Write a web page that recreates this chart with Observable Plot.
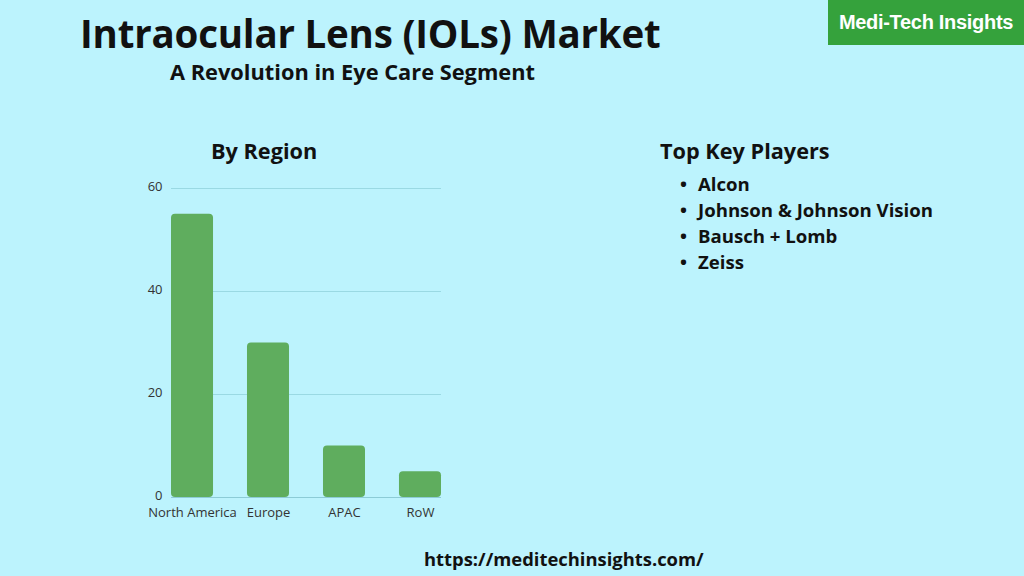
<!DOCTYPE html>
<html>
<head>
<meta charset="utf-8">
<script src="https://cdn.jsdelivr.net/npm/d3@7"></script>
<script src="https://cdn.jsdelivr.net/npm/@observablehq/plot@0.6"></script>
<style>
  html, body { margin: 0; padding: 0; }
  body { width: 1024px; height: 576px; background: #bcf3fd; position: relative; overflow: hidden; font-family: "Open Sans", sans-serif; color: #111; }
  .abs { position: absolute; white-space: nowrap; }
  #title { left: 80px; top: 11px; font-size: 38.5px; line-height: 1.15; font-weight: 700; letter-spacing: -0.2px; }
  #subtitle { left: 170px; top: 59px; font-size: 21.8px; line-height: 1.15; font-weight: 700; }
  #logo { left: 828px; top: 0; width: 196px; height: 45px; background: #35a23c; color: #fff; font-family: "Liberation Sans", Arial, sans-serif; font-weight: 700; font-size: 20px; display: flex; align-items: center; justify-content: center; letter-spacing: -0.3px; }
  #byregion { left: 211px; top: 136px; font-size: 21.7px; font-weight: 700; }
  #players { left: 660px; top: 136px; font-size: 21.7px; font-weight: 700; }
  #list { left: 680px; top: 171px; font-size: 18.6px; font-weight: 700; margin: 0; padding: 0; list-style: none; }
  #list li { height: 26px; line-height: 26px; }
  #list li::before { content: "•"; display: inline-block; width: 18px; }
  #url { left: 424px; top: 546px; font-size: 18.4px; font-weight: 700; }
  #chart { left: 100px; top: 170px; }
</style>
</head>
<body>
<div id="title" class="abs">Intraocular Lens (IOLs) Market</div>
<div id="subtitle" class="abs">A Revolution in Eye Care Segment</div>
<div id="logo" class="abs">Medi-Tech Insights</div>
<div id="byregion" class="abs">By Region</div>
<div id="players" class="abs">Top Key Players</div>
<ul id="list" class="abs"></ul>
<div id="url" class="abs">https://meditechinsights.com/</div>
<div id="chart" class="abs"></div>
<script>
const regions = ["North America", "Europe", "APAC", "RoW"];
const shares = [55, 30, 10, 5];
const yTicks = [0, 20, 40, 60];
const players = ["Alcon", "Johnson & Johnson Vision", "Bausch + Lomb", "Zeiss"];

const data = regions.map((r, i) => ({region: r, value: shares[i]}));

const list = document.getElementById("list");
players.forEach(p => { const li = document.createElement("li"); li.textContent = p; list.appendChild(li); });

const chart = Plot.plot({
  width: 360,
  height: 360,
  marginLeft: 71,
  marginRight: 19,
  marginTop: 18,
  marginBottom: 33,
  style: {background: "transparent", fontFamily: "Open Sans, sans-serif", fontSize: "13px", color: "#333"},
  x: {domain: regions, paddingInner: 0.447, paddingOuter: 0, round: false, label: null},
  y: {domain: [0, 60], label: null},
  marks: [
    Plot.ruleY(yTicks.slice(1), {stroke: "#9ad9e3", strokeWidth: 1}),
    Plot.barY(data, {x: "region", y: "value", fill: "#5fad5e", rx: 4}),
    Plot.ruleY([0], {stroke: "#8ccbd6", strokeWidth: 1}),
    Plot.axisY({ticks: yTicks, tickSize: 0, tickPadding: 9, dy: -1.5, tickFormat: d => String(d), fill: "#333"}),
    Plot.axisX({tickSize: 0, tickPadding: 10, fill: "#333"})
  ]
});
document.getElementById("chart").appendChild(chart);
</script>
</body>
</html>
